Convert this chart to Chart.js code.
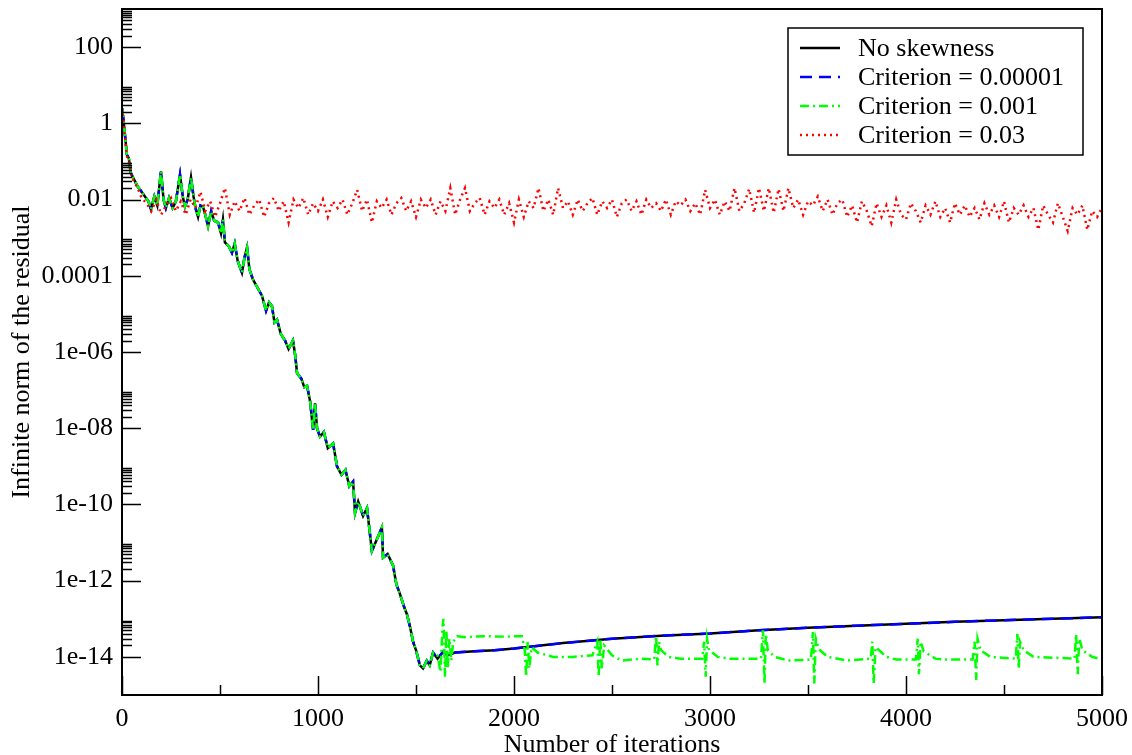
<!DOCTYPE html>
<html>
<head>
<meta charset="utf-8">
<title>Infinite norm of the residual</title>
<script src="https://cdn.jsdelivr.net/npm/chart.js@4.4.1/dist/chart.umd.min.js"></script>
<style>
    html, body { margin: 0; padding: 0; background: #fff; }
    canvas { display: block; }
</style>
</head>
<body>
<canvas id="graficoResiduo" width="1132" height="755"></canvas>
<script>
/**
 * Datos (iteración, norma infinita del residuo)
 */
// Sin skewness y Criterion = 0.00001 (prácticamente idénticas)
const iterPrincipal = [0, 8, 15, 25, 35, 45, 60, 80, 100, 117,
    135, 148, 165, 180, 199, 212, 224, 240, 258, 275,
    296, 310, 321, 335, 352, 365, 375, 388, 400, 413,
    425, 439, 455, 470, 490, 505, 515, 525, 545, 561,
    575, 590, 612, 625, 638, 650, 668, 690, 714, 735,
    750, 765, 778, 791, 810, 832, 850, 872, 884, 893,
    915, 930, 944, 960, 975, 985, 995, 1010, 1030, 1050,
    1077, 1097, 1120, 1140, 1160, 1179, 1189, 1205, 1230, 1250,
    1275, 1300, 1326, 1332, 1355, 1383, 1400, 1418, 1440, 1454,
    1470, 1485, 1500, 1520, 1536, 1555, 1570, 1587, 1610, 1640,
    1660, 1700, 1800, 1900, 2000, 2250, 2500, 2750, 3000, 3250,
    3500, 3750, 4000, 4250, 4500, 4750, 5000];
const valPrincipal = [2.5, 1.2, 0.5, 0.15, 0.12, 0.05, 0.035, 0.022, 0.016, 0.012,
    0.009, 0.0055, 0.012, 0.007, 0.055, 0.01, 0.006, 0.011, 0.006, 0.009,
    0.045, 0.012, 0.0065, 0.01, 0.038, 0.012, 0.006, 0.0035, 0.007, 0.0065,
    0.004, 0.002, 0.005, 0.0028, 0.0025, 0.0013, 0.003, 7.5e-4, 6e-4, 4e-4,
    7e-4, 2.5e-4, 1.2e-4, 3e-4, 5.5e-4, 1.5e-4, 8e-5, 5e-5, 3e-5, 1.2e-5,
    2e-5, 1.6e-5, 6e-6, 7e-6, 3e-6, 2e-6, 1.2e-6, 2e-6, 8e-7, 2.8e-7,
    2e-7, 1.2e-7, 1.3e-7, 5e-8, 9e-9, 4.5e-8, 1e-8, 6e-9, 8e-9, 3e-9,
    4e-9, 1e-9, 6e-10, 8e-10, 3e-10, 4e-10, 6e-11, 1.2e-10, 5e-11, 8e-11,
    6e-12, 1.2e-11, 2.5e-11, 4e-12, 5e-12, 2.5e-12, 8e-13, 4.5e-13, 2e-13, 1.3e-13,
    6e-14, 2.5e-14, 1.5e-14, 6e-15, 5e-15, 8e-15, 6e-15, 1.3e-14, 9e-15, 1.4e-14,
    1.1e-14, 1.3e-14, 1.4e-14, 1.5e-14, 1.65e-14, 2.3e-14, 3e-14, 3.6e-14, 4.1e-14, 5e-14,
    5.8e-14, 6.6e-14, 7.4e-14, 8.3e-14, 9.2e-14, 1e-13, 1.1e-13];

// Criterion = 0.001: sigue a la principal hasta el mínimo, luego esta cola
const finCabezaVerde = 1587;
const iterVerdeCola = [1610, 1625, 1635, 1640, 1648, 1655, 1662, 1670, 1680, 1690,
    1710, 1750, 1850, 1950, 2040, 2055, 2062, 2070, 2078, 2090,
    2120, 2200, 2300, 2400, 2425, 2432, 2440, 2448, 2460, 2500,
    2550, 2650, 2715, 2725, 2732, 2740, 2750, 2790, 2850, 2960,
    2970, 2978, 2985, 2995, 3040, 3100, 3260, 3270, 3278, 3285,
    3295, 3330, 3400, 3515, 3525, 3532, 3540, 3555, 3600, 3700,
    3820, 3828, 3835, 3845, 3900, 3950, 4050, 4060, 4066, 4075,
    4090, 4150, 4200, 4340, 4350, 4358, 4365, 4380, 4430, 4560,
    4568, 4575, 4582, 4600, 4650, 4860, 4868, 4876, 4884, 4900,
    4950, 5000];
const valVerdeCola = [1.1e-14, 4e-15, 6e-14, 1e-13, 3e-15, 5e-14, 5e-15, 3e-14, 8e-15, 2.5e-14,
    3.5e-14, 3.3e-14, 3.5e-14, 3.4e-14, 3.5e-14, 1.5e-14, 3e-15, 2.5e-14, 5e-15, 1.8e-14,
    1.3e-14, 1e-14, 1e-14, 1.1e-14, 2.5e-14, 3e-15, 3e-14, 5e-15, 2e-14, 1.1e-14,
    8e-15, 9e-15, 8.5e-15, 3.5e-14, 6e-15, 2.5e-14, 1.5e-14, 1e-14, 9e-15, 9e-15,
    2.5e-14, 3e-15, 3e-14, 1.5e-14, 1e-14, 9e-15, 9e-15, 5e-14, 2e-15, 4e-14,
    1.5e-14, 1e-14, 8e-15, 8.5e-15, 4.5e-14, 2e-15, 3e-14, 1.6e-14, 1e-14, 8e-15,
    9e-15, 2.5e-14, 2e-15, 1.8e-14, 1e-14, 8.5e-15, 8.5e-15, 3e-14, 3.5e-15, 2.5e-14,
    1.4e-14, 9e-15, 8.5e-15, 8.5e-15, 2.5e-14, 2.5e-15, 3e-14, 1.5e-14, 1e-14, 9e-15,
    4e-14, 5e-15, 2.5e-14, 1.5e-14, 1e-14, 9e-15, 4e-14, 3.5e-15, 3e-14, 1.5e-14,
    1e-14, 8.5e-15];

// Criterion = 0.03: caída inicial y luego banda cada 25 iteraciones desde 125
const iterRojoInicio = [0, 8, 15, 25, 35, 45, 60, 80, 100];
const valRojoInicio = [2.5, 1.0, 0.45, 0.14, 0.1, 0.05, 0.03, 0.02, 0.011];
const inicioBandaRoja = 125;
const pasoBandaRoja = 25;
const valBandaRoja = [
    0.008, 0.005, 0.010, 0.004, 0.007, 0.011, 0.005, 0.009, 0.004, 0.010,
    0.006, 0.016, 0.005, 0.009, 0.0035, 0.008, 0.020, 0.004, 0.009, 0.005,
    0.011, 0.004, 0.007, 0.010, 0.0035, 0.008, 0.011, 0.005, 0.009, 0.0025,
    0.010, 0.006, 0.011, 0.004, 0.008, 0.005, 0.010, 0.0035, 0.009, 0.006,
    0.010, 0.004, 0.008, 0.018, 0.005, 0.010, 0.0025, 0.009, 0.006, 0.010,
    0.004, 0.008, 0.011, 0.005, 0.009, 0.0035, 0.010, 0.006, 0.010, 0.004,
    0.009, 0.005, 0.020, 0.004, 0.010, 0.020, 0.005, 0.008, 0.011, 0.004,
    0.009, 0.006, 0.010, 0.004, 0.008, 0.0025, 0.010, 0.0035, 0.009, 0.006,
    0.020, 0.005, 0.010, 0.004, 0.020, 0.006, 0.009, 0.004, 0.010, 0.005,
    0.008, 0.011, 0.004, 0.009, 0.006, 0.010, 0.0035, 0.008, 0.010, 0.005,
    0.009, 0.004, 0.010, 0.006, 0.008, 0.005, 0.010, 0.004, 0.009, 0.007,
    0.010, 0.005, 0.008, 0.004, 0.018, 0.006, 0.010, 0.004, 0.009, 0.005,
    0.020, 0.005, 0.008, 0.019, 0.0045, 0.020, 0.005, 0.020, 0.0045, 0.019,
    0.005, 0.020, 0.006, 0.010, 0.004, 0.009, 0.007, 0.012, 0.005, 0.010,
    0.004, 0.008, 0.010, 0.0035, 0.007, 0.0025, 0.009, 0.005, 0.002, 0.008,
    0.0035, 0.007, 0.0025, 0.010, 0.004, 0.003, 0.008, 0.005, 0.0025, 0.007,
    0.004, 0.009, 0.0035, 0.006, 0.0025, 0.008, 0.004, 0.007, 0.0035, 0.006,
    0.003, 0.008, 0.004, 0.007, 0.0035, 0.009, 0.0025, 0.006, 0.004, 0.007,
    0.0035, 0.006, 0.0016, 0.007, 0.004, 0.0025, 0.008, 0.0035, 0.0015, 0.006,
    0.004, 0.007, 0.0016, 0.005, 0.0035, 0.006];

// Nombres de las series
const nombresSeries = ['No skewness', 'Criterion = 0.00001', 'Criterion = 0.001', 'Criterion = 0.03'];

// Marcas de los ejes
const xMarcasMayores = [0, 1000, 2000, 3000, 4000, 5000];
const xMarcasMenores = [500, 1500, 2500, 3500, 4500];
const yMarcasValores = [1e-14, 1e-12, 1e-10, 1e-8, 1e-6, 1e-4, 1e-2, 1, 100];
const yMarcasEtiquetas = ['1e-14', '1e-12', '1e-10', '1e-08', '1e-06', '0.0001', '0.01', '1', '100'];

const fuenteSerif = "'Liberation Serif', 'DejaVu Serif', serif";

/**
 * Une un arreglo de iteraciones con uno de valores en puntos {x, y}
 */
function emparejar(iters, vals) {
    return iters.map((it, i) => ({ x: it, y: vals[i] }));
}

const puntosPrincipal = emparejar(iterPrincipal, valPrincipal);

const puntosVerde = puntosPrincipal
    .filter(p => p.x <= finCabezaVerde)
    .concat(emparejar(iterVerdeCola, valVerdeCola));

const puntosRojo = emparejar(iterRojoInicio, valRojoInicio)
    .concat(valBandaRoja.map((v, i) => ({ x: inicioBandaRoja + i * pasoBandaRoja, y: v })));

/**
 * Dibuja el marco y las marcas hacia adentro en los ejes
 */
const marcasPlugin = {
    id: 'marcas',
    afterDatasetsDraw(chart) {
        const { ctx, chartArea: area, scales } = chart;
        const x = scales.x;
        const y = scales.y;
        ctx.save();
        ctx.strokeStyle = '#000';
        ctx.lineWidth = 1.5;
        ctx.beginPath();
        xMarcasMayores.forEach(v => {
            const px = Math.round(x.getPixelForValue(v)) + 0.5;
            ctx.moveTo(px, area.bottom);
            ctx.lineTo(px, area.bottom - 19);
        });
        xMarcasMenores.forEach(v => {
            const px = Math.round(x.getPixelForValue(v)) + 0.5;
            ctx.moveTo(px, area.bottom);
            ctx.lineTo(px, area.bottom - 10);
        });
        yMarcasValores.forEach(v => {
            const py = Math.round(y.getPixelForValue(v)) + 0.5;
            ctx.moveTo(area.left, py);
            ctx.lineTo(area.left + 19, py);
            for (let m = 2; m <= 9; m++) {
                const pm = Math.round(y.getPixelForValue(v * m)) + 0.5;
                ctx.moveTo(area.left, pm);
                ctx.lineTo(area.left + 10, pm);
            }
        });
        ctx.stroke();
        ctx.lineWidth = 2;
        ctx.strokeRect(area.left, area.top, area.right - area.left, area.bottom - area.top);
        ctx.restore();
    }
};

/**
 * Leyenda con recuadro en la esquina superior derecha
 */
const leyendaPlugin = {
    id: 'leyenda',
    afterDraw(chart) {
        const ctx = chart.ctx;
        const caja = { x: 788, y: 28, w: 295, h: 127 };
        ctx.save();
        ctx.fillStyle = '#fff';
        ctx.fillRect(caja.x, caja.y, caja.w, caja.h);
        ctx.strokeStyle = '#000';
        ctx.lineWidth = 1.5;
        ctx.strokeRect(caja.x, caja.y, caja.w, caja.h);
        ctx.font = '26px ' + fuenteSerif;
        ctx.textBaseline = 'middle';
        ctx.textAlign = 'left';
        const porNombre = {};
        chart.data.datasets.forEach(ds => { porNombre[ds.label] = ds; });
        nombresSeries.forEach((nombre, i) => {
            const ds = porNombre[nombre];
            const yFila = caja.y + 20 + i * 29;
            ctx.strokeStyle = ds.borderColor;
            ctx.lineWidth = 2.5;
            ctx.setLineDash(ds.borderDash || []);
            ctx.beginPath();
            ctx.moveTo(caja.x + 12, yFila);
            ctx.lineTo(caja.x + 52, yFila);
            ctx.stroke();
            ctx.setLineDash([]);
            ctx.fillStyle = '#000';
            ctx.fillText(nombre, caja.x + 70, yFila + 1);
        });
        ctx.restore();
    }
};

document.addEventListener('DOMContentLoaded', function () {
    const ctx = document.getElementById('graficoResiduo').getContext('2d');

    new Chart(ctx, {
        type: 'line',
        data: {
            datasets: [
                {
                    label: nombresSeries[0],
                    data: puntosPrincipal,
                    borderColor: '#000000',
                    borderWidth: 2.5,
                    order: 4
                },
                {
                    label: nombresSeries[1],
                    data: puntosPrincipal,
                    borderColor: '#0000ff',
                    borderWidth: 2.5,
                    borderDash: [12, 7],
                    order: 3
                },
                {
                    label: nombresSeries[2],
                    data: puntosVerde,
                    borderColor: '#00ff00',
                    borderWidth: 2.5,
                    borderDash: [9, 4, 2, 4],
                    order: 2
                },
                {
                    label: nombresSeries[3],
                    data: puntosRojo,
                    borderColor: '#ff0000',
                    borderWidth: 2.5,
                    borderDash: [2, 4],
                    order: 1
                }
            ]
        },
        options: {
            responsive: false,
            animation: false,
            elements: {
                point: { radius: 0 },
                line: { tension: 0, borderJoinStyle: 'miter' }
            },
            layout: {
                padding: { top: 9, right: 30, left: 0, bottom: 0 }
            },
            plugins: {
                legend: { display: false },
                tooltip: { enabled: false }
            },
            scales: {
                x: {
                    type: 'linear',
                    min: 0,
                    max: 5000,
                    grid: { display: false, drawTicks: false },
                    border: { display: false },
                    afterBuildTicks: function (scale) {
                        scale.ticks = xMarcasMayores.map(v => ({ value: v }));
                    },
                    afterFit: function (scale) {
                        scale.height = 60;
                        scale.paddingLeft = 0;
                        scale.paddingRight = 0;
                    },
                    ticks: {
                        autoSkip: false,
                        maxRotation: 0,
                        padding: 9,
                        color: '#000',
                        font: { family: fuenteSerif, size: 26 },
                        callback: function (value) {
                            return String(value);
                        }
                    },
                    title: {
                        display: true,
                        text: 'Number of iterations',
                        color: '#000',
                        padding: { top: 0, bottom: -3 },
                        font: { family: fuenteSerif, size: 26, lineHeight: 1 }
                    }
                },
                y: {
                    type: 'logarithmic',
                    min: 1e-15,
                    max: 1e3,
                    grid: { display: false, drawTicks: false },
                    border: { display: false },
                    afterBuildTicks: function (scale) {
                        scale.ticks = yMarcasValores.map(v => ({ value: v }));
                    },
                    afterFit: function (scale) {
                        scale.width = 122;
                        scale.paddingTop = 0;
                        scale.paddingBottom = 0;
                    },
                    ticks: {
                        autoSkip: false,
                        padding: 9,
                        color: '#000',
                        font: { family: fuenteSerif, size: 26 },
                        callback: function (value, index) {
                            return yMarcasEtiquetas[index];
                        }
                    },
                    title: {
                        display: true,
                        text: 'Infinite norm of the residual',
                        color: '#000',
                        padding: { top: 9, bottom: 0 },
                        font: { family: fuenteSerif, size: 26, lineHeight: 1 }
                    }
                }
            }
        },
        plugins: [marcasPlugin, leyendaPlugin]
    });
});
</script>
</body>
</html>
